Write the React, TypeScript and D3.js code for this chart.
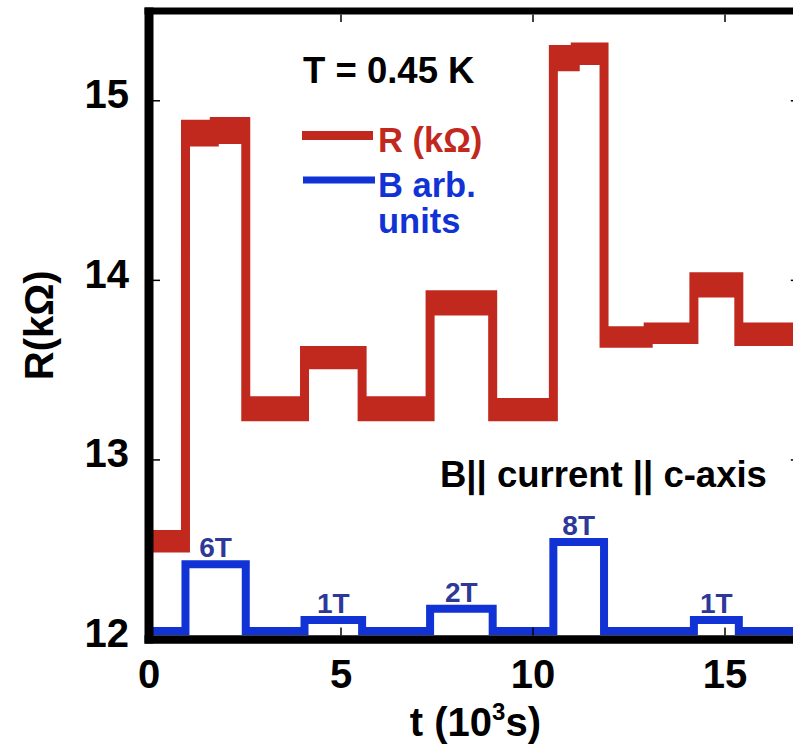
import React from 'react';
import * as d3 from 'd3';

const W = 793;
const H = 747;

// Axis ticks
const xTicks = [0, 5, 10, 15];
const yTicks = [12, 13, 14, 15];

// Resistance plateaus: start time (10^3 s), lower and upper edge of the noisy trace (kΩ)
const rStart = [0, 0.95, 1.7, 2.52, 4.05, 5.55, 7.32, 8.95, 10.53, 11.1, 11.85, 13.0, 14.19, 15.36];
const rLow = [12.51, 14.77, 14.785, 13.24, 13.53, 13.24, 13.83, 13.24, 15.19, 15.225, 13.65, 13.67, 13.93, 13.66];
const rHigh = [12.585, 14.87, 14.885, 13.33, 13.61, 13.33, 13.92, 13.32, 15.285, 15.30, 13.72, 13.74, 14.02, 13.74];
const tEnd = 17;

// Applied field steps: start time (10^3 s) and field (T)
const bStart = [0, 0.95, 2.52, 4.05, 5.55, 7.32, 8.95, 10.53, 11.85, 14.19, 15.36];
const bField = [0, 6, 0, 1, 0, 2, 0, 8, 0, 1, 0];

// Field trace is drawn on the resistance axis in arbitrary units
const bBase = 12.047;
const bPerTesla = 0.062;

const RED = '#c1291f';
const BLUE = '#1133d6';
const NAVY = '#2d3899';
const FONT = '"Liberation Sans", Arial, Helvetica, sans-serif';

export default function App() {
  const x = d3.scaleLinear().domain([0, 17]).range([149, 801.8]);
  const y = d3.scaleLinear().domain([12, 15.5]).range([639.5, 11]);

  const rPts = rStart.map((t, i) => ({ t, lo: rLow[i], hi: rHigh[i] }));
  rPts.push({ t: tEnd, lo: rLow[rLow.length - 1], hi: rHigh[rHigh.length - 1] });
  const rArea = d3
    .area<{ t: number; lo: number; hi: number }>()
    .x((d) => x(d.t))
    .y0((d) => y(d.lo))
    .y1((d) => y(d.hi))
    .curve(d3.curveStepAfter);

  const bPts = bStart.map((t, i) => ({ t, v: bBase + bPerTesla * bField[i] }));
  bPts.push({ t: tEnd, v: bBase });
  const bLine = d3
    .line<{ t: number; v: number }>()
    .x((d) => x(d.t))
    .y((d) => y(d.v))
    .curve(d3.curveStepAfter);

  const pulses = bField
    .map((f, i) => ({ f, t0: bStart[i], t1: i + 1 < bStart.length ? bStart[i + 1] : tEnd }))
    .filter((p) => p.f > 0);

  const left = x(0);
  const right = x(17);
  const top = y(15.5);
  const bottom = y(12);

  return (
    <svg
      width={W}
      height={H}
      viewBox={`0 0 ${W} ${H}`}
      style={{ position: 'absolute', left: 0, top: 0, background: '#fff' }}
      fontFamily={FONT}
      fontWeight="bold"
    >
      <defs>
        <clipPath id="plot">
          <rect x={left + 4} y={top + 3.5} width={right - left - 8} height={bottom - top - 7} />
        </clipPath>
      </defs>

      <g clipPath="url(#plot)">
        <path d={rArea(rPts) ?? ''} fill={RED} stroke={RED} strokeWidth={9} strokeLinejoin="miter" />
        <path d={bLine(bPts) ?? ''} fill="none" stroke={BLUE} strokeWidth={8} strokeLinejoin="miter" />
      </g>

      {/* field labels above each pulse */}
      {pulses.map((p, i) => (
        <text
          key={i}
          x={x((p.t0 + p.t1) / 2)}
          y={y(bBase + bPerTesla * p.f) - 7}
          textAnchor="middle"
          fontSize={28}
          fill={NAVY}
        >
          {`${p.f}T`}
        </text>
      ))}

      {/* ticks */}
      {yTicks.map((v) => (
        <g key={`y${v}`} stroke="#000" strokeWidth={1.5}>
          <line x1={left + 4} x2={left + 11} y1={y(v)} y2={y(v)} />
          <line x1={right - 4} x2={right - 11} y1={y(v)} y2={y(v)} />
        </g>
      ))}
      {xTicks.map((v) => (
        <g key={`x${v}`} stroke="#000" strokeWidth={1.5}>
          <line x1={x(v)} x2={x(v)} y1={bottom - 4} y2={bottom - 12} />
          <line x1={x(v)} x2={x(v)} y1={top + 3.5} y2={top + 11} />
        </g>
      ))}

      {/* frame */}
      <g stroke="#000" fill="none">
        <line x1={left} x2={left} y1={top - 3.5} y2={bottom + 4} strokeWidth={9} />
        <line x1={right} x2={right} y1={top - 3.5} y2={bottom + 4} strokeWidth={9} />
        <line x1={left - 4.5} x2={right + 4.5} y1={top} y2={top} strokeWidth={7} />
        <line x1={left - 4.5} x2={right + 4.5} y1={bottom} y2={bottom} strokeWidth={8.5} />
      </g>

      {/* tick labels */}
      {yTicks.map((v) => (
        <text key={`yl${v}`} x={129} y={y(v) + 7.5} textAnchor="end" fontSize={40} fill="#000">
          {v}
        </text>
      ))}
      {xTicks.map((v) => (
        <text key={`xl${v}`} x={x(v)} y={688} textAnchor="middle" fontSize={40} fill="#000">
          {v}
        </text>
      ))}

      {/* axis titles */}
      <text x={(left + right) / 2} y={736} textAnchor="middle" fontSize={40} fill="#000">
        t (10
        <tspan fontSize={24} dy={-16}>3</tspan>
        <tspan dy={16}>s)</tspan>
      </text>
      <text
        transform={`translate(53, ${(top + bottom) / 2}) rotate(-90)`}
        textAnchor="middle"
        fontSize={40}
        fill="#000"
      >
        R(kΩ)
      </text>

      {/* annotations and legend */}
      <text x={303} y={83} fontSize={36.5} fill="#000">T = 0.45 K</text>
      <line x1={302} x2={373} y1={135.5} y2={135.5} stroke={RED} strokeWidth={9} />
      <text x={378} y={152} fontSize={34.5} fill={RED}>R (kΩ)</text>
      <line x1={303} x2={375} y1={180} y2={180} stroke={BLUE} strokeWidth={7} />
      <text x={378} y={197} fontSize={34.5} fill={BLUE}>B arb.</text>
      <text x={378} y={233} fontSize={34.5} fill={BLUE}>units</text>
      <text x={440} y={487} fontSize={36.5} fill="#000">B|| current || c-axis</text>
    </svg>
  );
}
